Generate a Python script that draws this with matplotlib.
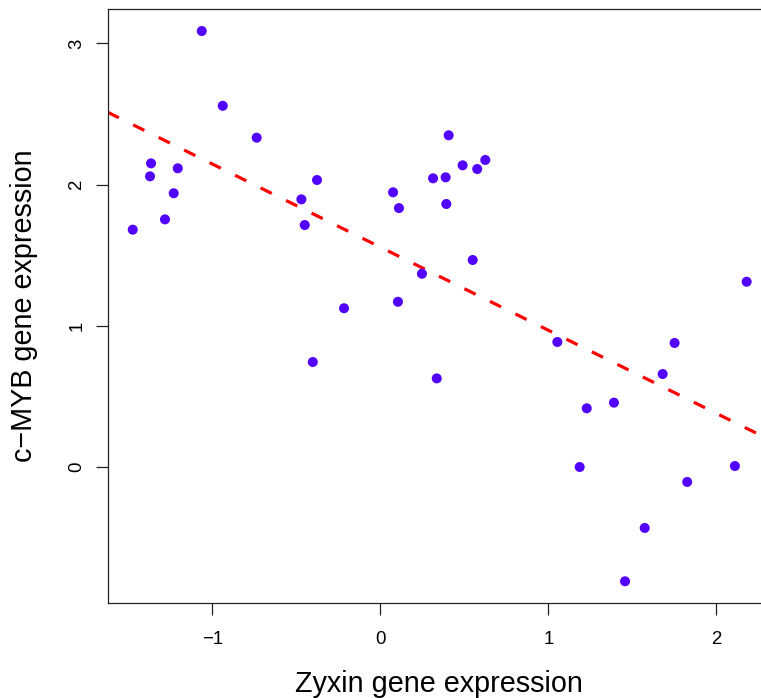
import numpy as np
import matplotlib
matplotlib.use("Agg")
import matplotlib.pyplot as plt

plt.rcParams['font.family'] = ['Liberation Sans', 'DejaVu Sans']

zyxin = [-1.063, -0.938, -0.736, -1.365, -1.371, -1.206, -1.230, -1.282, -1.474,
         -0.377, -0.470, -0.450, -0.216, -0.402,
         0.407, 0.625, 0.490, 0.577, 0.314, 0.389, 0.076, 0.111, 0.393, 0.550,
         0.248, 0.105, 1.054, 1.752, 2.181,
         0.336, 1.681, 1.229, 1.391, 1.187, 2.111, 1.827, 1.574, 1.457]
cmyb = [3.088, 2.558, 2.332, 2.150, 2.058, 2.115, 1.938, 1.753, 1.680,
        2.032, 1.895, 1.713, 1.123, 0.742,
        2.349, 2.174, 2.136, 2.110, 2.044, 2.051, 1.945, 1.833, 1.862, 1.465,
        1.368, 1.169, 0.884, 0.877, 1.311,
        0.626, 0.657, 0.414, 0.454, -0.002, 0.005, -0.108, -0.434, -0.812]

x_ticks = [-1, 0, 1, 2]
y_ticks = [0, 1, 2, 3]
x_tick_labels = ['\u22121', '0', '1', '2']
y_tick_labels = ['0', '1', '2', '3']

zyxin = np.array(zyxin)
cmyb = np.array(cmyb)
slope, intercept = np.polyfit(zyxin, cmyb, 1)

fig = plt.figure(figsize=(7.61, 6.98), dpi=100)
ax = fig.add_axes([107.7/761, (698-603.3)/698, (770-107.7)/761, 594.3/698])

xlim = (-1.623, 2.320)
ylim = (-0.968, 3.244)
ax.set_xlim(*xlim)
ax.set_ylim(*ylim)

ax.scatter(zyxin, cmyb, s=52, color='#5200FF', edgecolors='none', zorder=3)
lx = np.array(xlim)
ax.plot(lx, intercept + slope * lx, color='#FF0000', lw=2.3,
        dashes=(3.9, 5.0), dash_capstyle='butt', zorder=2)

for s in ax.spines.values():
    s.set_linewidth(0.9)
    s.set_color('#222222')

ax.set_xticks(x_ticks)
ax.set_xticklabels(x_tick_labels)
ax.set_yticks(y_ticks)
ax.set_yticklabels(y_tick_labels, rotation=90, va='center')
ax.tick_params(axis='both', length=8.6, width=0.9, labelsize=13.4, color='#222222')
ax.tick_params(axis='x', pad=11)
ax.tick_params(axis='y', pad=7.5)

ax.set_xlabel('Zyxin gene expression', fontsize=20.7)
ax.set_ylabel('c\u2212MYB gene expression', fontsize=20.7)
ax.xaxis.set_label_coords(0.5, -0.112)
ax.yaxis.set_label_coords(-0.1045, 0.5)

fig.savefig('out.png', dpi=100)
